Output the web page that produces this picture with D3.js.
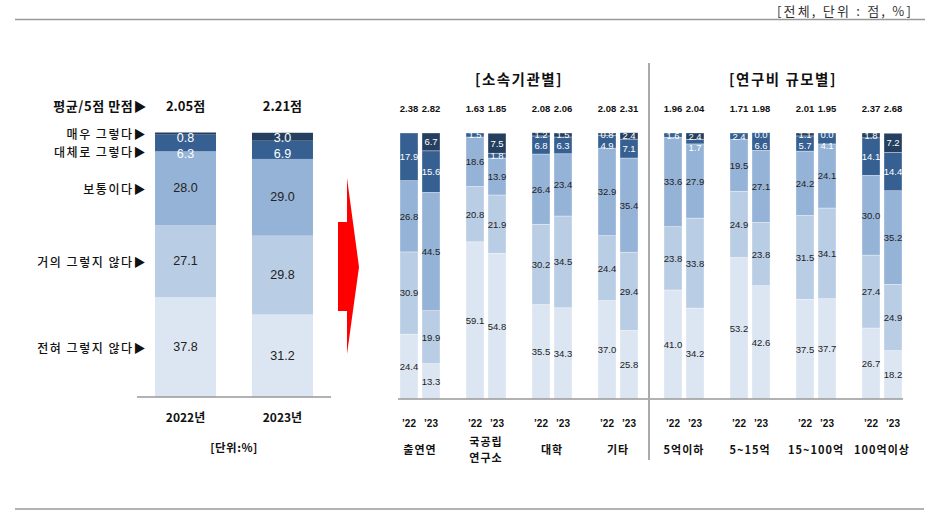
<!DOCTYPE html>
<html><head><meta charset="utf-8">
<script src="https://cdn.jsdelivr.net/npm/d3@7"></script>
<style>
html,body{margin:0;padding:0;background:#fff;}
svg{display:block;font-family:"Liberation Sans",Arial,"Noto Sans CJK KR",sans-serif;}
</style></head>
<body>
<svg id="chart" width="941" height="518"></svg>
<script>
// ---------- data ----------
const levels = ["전혀 그렇지 않다","거의 그렇지 않다","보통이다","대체로 그렇다","매우 그렇다"];
const levelColors = ["#dce6f2","#b9cde5","#95b3d7","#376092","#243f60"];
const labelColors = ["#222","#222","#222","#fff","#fff"];

// left panel (overall)
const leftYears = ["2022년","2023년"];
const leftNever  = [37.8, 31.2];
const leftRarely = [27.1, 29.8];
const leftNormal = [28.0, 29.0];
const leftMostly = [6.3, 6.9];
const leftVery   = [0.8, 3.0];
const leftMean   = [2.05, 2.21];

// right panel (by institution / by budget)
const groups = ["출연연","국공립\n연구소","대학","기타","5억이하","5~15억","15~100억","100억이상"];
const yearTicks = ["’22","’23"];
const rNever  = [24.4,13.3, 59.1,54.8, 35.5,34.3, 37.0,25.8, 41.0,34.2, 53.2,42.6, 37.5,37.7, 26.7,18.2];
const rRarely = [30.9,19.9, 20.8,21.9, 30.2,34.5, 24.4,29.4, 23.8,33.8, 24.9,23.8, 31.5,34.1, 27.4,24.9];
const rNormal = [26.8,44.5, 18.6,13.9, 26.4,23.4, 32.9,35.4, 33.6,27.9, 19.5,27.1, 24.2,24.1, 30.0,35.2];
const rMostly = [17.9,15.6, 1.5,1.8, 6.8,6.3, 4.9,7.1, 1.6,1.7, 2.4,6.6, 5.7,4.1, 14.1,14.4];
const rVery   = [null,6.7, null,7.5, 1.2,1.5, 0.8,2.4, null,2.4, null,0.0, 1.1,0.0, 1.8,7.2];
const rMean   = [2.38,2.82, 1.63,1.85, 2.08,2.06, 2.08,2.31, 1.96,2.04, 1.71,1.98, 2.01,1.95, 2.37,2.68];
const sectionTitles = ["[소속기관별]","[연구비 규모별]"];

// ---------- helpers ----------
const svg = d3.select("#chart");
const KR = "'Noto Sans CJK KR','Liberation Sans',sans-serif";

function buildRows(seriesList, n){
  const rows = [];
  for(let i=0;i<n;i++){
    const r = {idx:i};
    seriesList.forEach((s,k)=>{ r["k"+k] = s[i]; });
    rows.push(r);
  }
  return rows;
}
function placeLabels(segs, topY, firstOffset, minGap){
  let prev = null;
  segs.forEach(s=>{
    let y = s.center;
    if(prev===null) y = Math.max(y, topY + firstOffset);
    else y = Math.max(y, prev + minGap);
    s.ly = y; prev = y;
  });
}

// ---------- frame lines & unit ----------
svg.append("line").attr("x1",15).attr("x2",925).attr("y1",19.5).attr("y2",19.5)
  .attr("stroke","#999").attr("stroke-width",1.5);
svg.append("line").attr("x1",15).attr("x2",924).attr("y1",509).attr("y2",509)
  .attr("stroke","#999").attr("stroke-width",1.5);
svg.append("text").attr("x",913).attr("y",10).attr("text-anchor","end")
  .attr("dominant-baseline","central").style("font-family",KR).style("font-size","13px")
  .style("letter-spacing","2.2px").attr("fill","#333").text("[전체, 단위 : 점, %]");

const keys = [0,1,2,3,4].map(k=>"k"+k);

// ---------- left panel ----------
const xL = d3.scaleBand().domain(leftYears).range([137,331]).paddingInner(0.371).paddingOuter(0.186);
const yL = d3.scaleLinear().domain([0,100]).range([397,132.5]);
const leftRows = buildRows([leftNever,leftRarely,leftNormal,leftMostly,leftVery], leftYears.length);
const leftStack = d3.stack().keys(keys).value((d,k)=> d[k]==null?0:d[k])(leftRows);

const gL = svg.append("g");
leftStack.forEach((layer,k)=>{
  gL.selectAll(null).data(layer).enter().append("rect")
    .attr("x",d=>xL(leftYears[d.data.idx]))
    .attr("width",xL.bandwidth())
    .attr("y",d=>yL(d[1]))
    .attr("height",d=>Math.max(0,yL(d[0])-yL(d[1])))
    .attr("fill",levelColors[k]);
});
leftYears.forEach((yr,i)=>{
  const segs = [];
  for(let k=4;k>=0;k--){
    const v = leftRows[i]["k"+k];
    if(v==null) continue;
    const seg = leftStack[k][i];
    segs.push({k, v, center:(yL(seg[0])+yL(seg[1]))/2});
  }
  placeLabels(segs, yL(100), 5.5, 15.5);
  segs.forEach(s=>{
    gL.append("text").attr("x",xL(yr)+xL.bandwidth()/2).attr("y",s.ly)
      .attr("text-anchor","middle").attr("dominant-baseline","central")
      .style("font-size","12.5px").attr("fill",labelColors[s.k]).text(s.v.toFixed(1));
  });
});
gL.append("line").attr("x1",137).attr("x2",331).attr("y1",yL(0)).attr("y2",yL(0))
  .attr("stroke","#999").attr("stroke-width",1.5);
const axL = d3.axisBottom(xL).tickSize(0).tickPadding(0);
const axLg = gL.append("g").attr("transform",`translate(0,${yL(0)+21})`).call(axL);
axLg.select(".domain").remove();
axLg.selectAll("text").attr("dy","0.35em").style("font-family",KR).style("font-size","12px")
  .style("font-weight","bold").attr("fill","#111");
gL.append("text").attr("x",234).attr("y",447).attr("text-anchor","middle")
  .attr("dominant-baseline","central").style("font-family",KR).style("font-size","11.5px")
  .style("font-weight","bold").style("letter-spacing","0.5px").attr("fill","#111").text("[단위:%]");
gL.append("text").attr("x",147).attr("y",105).attr("text-anchor","end")
  .attr("dominant-baseline","central").style("font-family",KR).style("font-size","13px")
  .style("font-weight","bold").style("letter-spacing","0.6px").attr("fill","#111").text("평균/5점 만점▶");
leftYears.forEach((yr,i)=>{
  gL.append("text").attr("x",xL(yr)+xL.bandwidth()/2).attr("y",105).attr("text-anchor","middle")
    .attr("dominant-baseline","central").style("font-family",KR).style("font-size","13px")
    .style("font-weight","bold").attr("fill","#111").text(leftMean[i].toFixed(2)+"점");
});
const catSegs = [];
for(let k=4;k>=0;k--){
  const seg = leftStack[k][0];
  catSegs.push({k, center:(yL(seg[0])+yL(seg[1]))/2});
}
placeLabels(catSegs, yL(100), 0, 17.5);
catSegs.forEach(s=>{
  gL.append("text").attr("x",147).attr("y",s.ly).attr("text-anchor","end")
    .attr("dominant-baseline","central").style("font-family",KR).style("font-size","12px")
    .style("font-weight","500").style("letter-spacing","1.5px").attr("fill","#111").text(levels[s.k]+"▶");
});

// ---------- red arrow ----------
svg.append("path")
  .attr("d","M338,222 L347,222 L347,178 L359,267 L347,354 L347,311 L338,311 Z")
  .attr("fill","#ff0000");

// ---------- right panel ----------
const xG = d3.scaleBand().domain(groups).range([387,915]);
const xY = d3.scaleBand().domain(yearTicks).range([0,xG.step()]).paddingInner(0.182).paddingOuter(0.591);
const yR = d3.scaleLinear().domain([0,100]).range([399,133]);
const rRows = buildRows([rNever,rRarely,rNormal,rMostly,rVery], rMean.length);
const rStack = d3.stack().keys(keys).value((d,k)=> d[k]==null?0:d[k])(rRows);
const barX = i => xG(groups[Math.floor(i/2)]) + xY(yearTicks[i%2]);

svg.append("defs").append("clipPath").attr("id","rclip")
  .append("rect").attr("x",380).attr("y",yR(100)-1.5).attr("width",540).attr("height",300);

const gR = svg.append("g");
rStack.forEach((layer,k)=>{
  gR.selectAll(null).data(layer).enter().append("rect")
    .attr("x",d=>barX(d.data.idx))
    .attr("width",xY.bandwidth())
    .attr("y",d=>yR(d[1]))
    .attr("height",d=>Math.max(0,yR(d[0])-yR(d[1])))
    .attr("fill",levelColors[k])
    .attr("stroke","rgba(255,255,255,0.55)").attr("stroke-width",0.6);
});
const gRL = gR.append("g").attr("clip-path","url(#rclip)");
rRows.forEach((row,i)=>{
  const segs = [];
  for(let k=4;k>=0;k--){
    const v = row["k"+k];
    if(v==null) continue;
    const seg = rStack[k][i];
    segs.push({k, v, center:(yR(seg[0])+yR(seg[1]))/2});
  }
  placeLabels(segs, yR(100), 1.5, 11);
  segs.forEach(s=>{
    gRL.append("text").attr("x",barX(i)+xY.bandwidth()/2).attr("y",s.ly)
      .attr("text-anchor","middle").attr("dominant-baseline","central")
      .style("font-size","9.5px").attr("fill",labelColors[s.k]).text(s.v.toFixed(1));
  });
  gR.append("text").attr("x",barX(i)+xY.bandwidth()/2).attr("y",108)
    .attr("text-anchor","middle").attr("dominant-baseline","central")
    .style("font-size","9.5px").style("font-weight","bold").attr("fill","#111")
    .text(rMean[i].toFixed(2));
  gR.append("text").attr("x",barX(i)+xY.bandwidth()/2).attr("y",423)
    .attr("text-anchor","middle").attr("dominant-baseline","central")
    .style("font-size","10px").style("font-weight","bold").attr("fill","#111")
    .text(yearTicks[i%2]);
});
gR.append("line").attr("x1",398).attr("x2",903).attr("y1",yR(0)).attr("y2",yR(0))
  .attr("stroke","#999").attr("stroke-width",1.5);
groups.forEach(g=>{
  const lines = g.split("\n");
  const cx = xG(g)+xG.bandwidth()/2;
  lines.forEach((ln,j)=>{
    gR.append("text").attr("x",cx).attr("y",449 + (j-(lines.length-1)/2)*15.5)
      .attr("text-anchor","middle").attr("dominant-baseline","central")
      .style("font-family",KR).style("font-size","11px").style("font-weight","bold")
      .style("letter-spacing","1px").attr("fill","#111").text(ln);
  });
});
const divX = xG(groups[4]) - 2;
gR.append("line").attr("x1",divX).attr("x2",divX).attr("y1",63).attr("y2",460)
  .attr("stroke","#aaa").attr("stroke-width",2);
[[0,3],[4,7]].forEach((rng,j)=>{
  const cx = (xG(groups[rng[0]]) + xG(groups[rng[1]]) + xG.bandwidth())/2;
  gR.append("text").attr("x",cx).attr("y",78).attr("text-anchor","middle")
    .attr("dominant-baseline","central").style("font-family",KR).style("font-size","14.5px")
    .style("font-weight","bold").style("letter-spacing","1.5px").attr("fill","#111").text(sectionTitles[j]);
});
</script>
</body></html>
